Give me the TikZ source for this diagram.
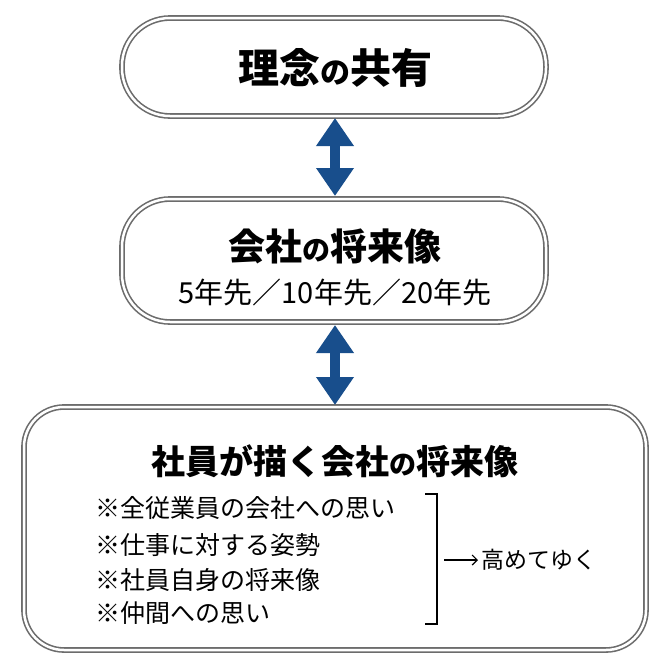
\documentclass[tikz,border=0pt]{standalone}
\usepackage{fontspec}
\setmainfont{Noto Sans CJK JP}
\usetikzlibrary{arrows.meta,shadows}

\definecolor{linkblue}{RGB}{24,78,140}
\tikzset{
  box/.style={draw=gray!85!black,double=white,double distance=2.5pt,line width=1.6pt,
    fill=white,rounded corners=#1,drop shadow={opacity=0.35,shadow xshift=1pt,shadow yshift=-2pt}},
  link/.style={{Triangle[width=36pt,length=28pt]}-{Triangle[width=36pt,length=28pt]},
    line width=10pt,draw=linkblue},
}

\begin{document}
\begin{tikzpicture}[x=1pt,y=-1pt]

  \useasboundingbox (0,0) rectangle (670,670);

  % boxes
  \draw[box=48pt] (122,18) rectangle (546,116);
  \draw[box=48pt] (122,199) rectangle (546,322);
  \draw[box=40pt] (24,407) rectangle (646,650);

  \coordinate (t1) at (335,118);
  \coordinate (t2) at (335,196);
  \coordinate (t3) at (335,325);
  \coordinate (t4) at (335,405);

  % arrows between boxes
  \draw[link] (t1) -- (t2);
  \draw[link] (t3) -- (t4);

  % texts
  \node[font=\fontsize{41}{44}\selectfont\bfseries] (share) at (335,68)
    {理念{\fontsize{30}{32}\selectfont の}共有};
  \node[font=\fontsize{37}{40}\selectfont\bfseries] (vision) at (335,246)
    {会社{\fontsize{28}{30}\selectfont の}将来像};
  \node[font=\fontsize{29}{31}\selectfont] (years) at (335,292) {5年先／10年先／20年先};
  \node[font=\fontsize{34}{36}\selectfont\bfseries] (staff) at (335,461)
    {社員が描く会社{\fontsize{27}{29}\selectfont の}将来像};

  \foreach \y/\t [count=\i] in {508/※全従業員の会社への思い,545/※仕事に対する姿勢,
      580/※社員自身の将来像,613/※仲間への思い}
    \node[font=\fontsize{25}{27}\selectfont,anchor=west] (item\i) at (92,\y) {\t};

  % bracket and result
  \draw[line width=1.8pt] (425,494) -- (437,494) -- (437,624) -- (425,624);
  \coordinate (br) at (444,560);
  \node[font=\fontsize{23}{25}\selectfont,anchor=west] (grow) at (478,560) {高めてゆく};
  \draw[-{Straight Barb[length=5pt]},line width=1.2pt] (br) -- (grow.west);

\end{tikzpicture}
\end{document}
